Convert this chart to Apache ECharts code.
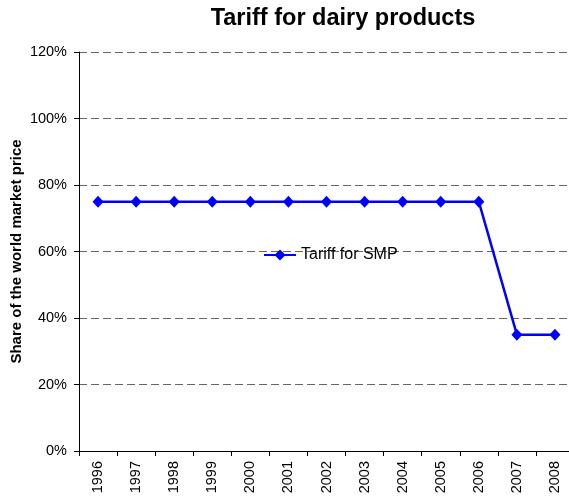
<!DOCTYPE html>
<html>
<head>
<meta charset="utf-8">
<script src="https://cdn.jsdelivr.net/npm/echarts@6/dist/echarts.min.js"></script>
<style>
  html, body { margin: 0; padding: 0; background: #fff; overflow: hidden; }
  /* the reference plot runs a few px past the right edge of the picture */
  #chart { width: 574px; height: 496px; }
</style>
</head>
<body>
<div id="chart"></div>
<script>
const years = ['1996', '1997', '1998', '1999', '2000', '2001', '2002', '2003', '2004', '2005', '2006', '2007', '2008']
const tariffSMP = [75, 75, 75, 75, 75, 75, 75, 75, 75, 75, 75, 35, 35]

const chart = echarts.init(document.getElementById('chart'))
chart.setOption({
  animation: false,
  title: {
    text: 'Tariff for dairy products',
    left: 338,
    top: 2,
    textAlign: 'center',
    textStyle: { fontFamily: 'Liberation Sans', fontSize: 23.5, fontWeight: 'bold', color: '#000' }
  },
  legend: {
    left: 258,
    top: 242,
    itemWidth: 32,
    itemHeight: 14,
    textStyle: { fontFamily: 'Liberation Sans', fontSize: 16, color: '#000' },
    data: ['Tariff for SMP']
  },
  grid: { left: 79, right: 0, top: 52, bottom: 45, containLabel: false, outerBoundsMode: 'none' },
  xAxis: {
    type: 'category',
    data: years,
    boundaryGap: true,
    axisLine: { lineStyle: { color: '#000', width: 1 } },
    axisTick: { show: true, length: 5, lineStyle: { color: '#000' } },
    axisLabel: { rotate: 90, margin: 10, fontFamily: 'Liberation Sans', fontSize: 14.5, color: '#000' },
    splitLine: { show: false }
  },
  yAxis: {
    type: 'value',
    min: 0,
    max: 120,
    interval: 20,
    name: 'Share of the world market price',
    nameLocation: 'middle',
    nameGap: 55,
    nameMoveOverlap: false,
    nameTextStyle: { fontFamily: 'Liberation Sans', fontSize: 15, fontWeight: 'bold', color: '#000' },
    axisLine: { show: true, lineStyle: { color: '#000', width: 1 } },
    axisTick: { show: true, length: 5, lineStyle: { color: '#000' } },
    axisLabel: { formatter: '{value}%', margin: 12, fontFamily: 'Liberation Sans', fontSize: 14.5, color: '#000' },
    splitLine: { show: true, lineStyle: { color: '#666', type: [8, 4], width: 1 } }
  },
  series: [
    {
      name: 'Tariff for SMP',
      type: 'line',
      data: tariffSMP,
      symbol: 'diamond',
      symbolSize: [11, 12],
      itemStyle: { color: '#0000ff' },
      lineStyle: { color: '#0000ff', width: 2.5 }
    }
  ]
})
</script>
</body>
</html>
